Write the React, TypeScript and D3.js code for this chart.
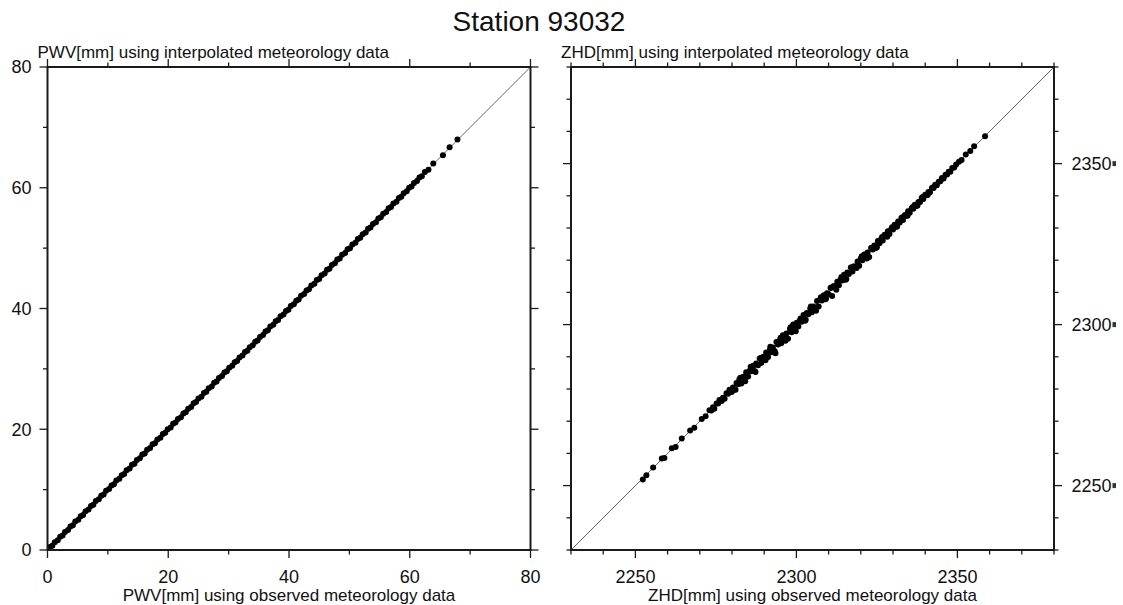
import React from "react";
import * as d3 from "d3";

// ---------- data ----------
const pwvObserved = [
  0.4, 0.8, 1.2, 1.7, 2.1, 2.5, 2.9, 3.4, 3.8, 4.2, 4.6, 5.1, 5.5, 5.9, 6.3, 6.8, 7.2, 7.6, 8.0, 8.5,
  8.9, 9.3, 9.7, 10.2, 10.6, 11.0, 11.4, 11.9, 12.3, 12.7, 13.1, 13.6, 14.0, 14.4, 14.8, 15.3, 15.7, 16.1, 16.5, 17.0,
  17.4, 17.8, 18.2, 18.7, 19.1, 19.5, 19.9, 20.4, 20.8, 21.2, 21.6, 22.1, 22.5, 22.9, 23.3, 23.8, 24.2, 24.6, 25.0, 25.5,
  25.9, 26.3, 26.7, 27.2, 27.6, 28.0, 28.4, 28.9, 29.3, 29.7, 30.1, 30.6, 31.0, 31.4, 31.8, 32.3, 32.7, 33.1, 33.5, 34.0,
  34.4, 34.8, 35.2, 35.7, 36.1, 36.5, 36.9, 37.4, 37.8, 38.2, 38.6, 39.1, 39.5, 39.9, 40.3, 40.8, 41.2, 41.6, 42.0, 42.5,
  42.9, 43.3, 43.7, 44.2, 44.6, 45.0, 45.4, 45.9, 46.3, 46.7, 47.1, 47.6, 48.0, 48.4, 48.8, 49.3, 49.7, 50.1, 50.5, 51.0,
  51.4, 51.8, 52.2, 52.7, 53.1, 53.5, 53.9, 54.4, 54.8, 55.2, 55.6, 56.1, 56.5, 56.9, 57.3, 57.8, 58.2, 58.6, 59.0, 59.5,
  59.9, 60.3, 60.7, 61.2, 61.6, 62.0, 62.5, 63.1, 63.9, 65.5, 66.6, 67.9,
];
const pwvInterpolated = [
  0.5, 0.7, 1.3, 1.6, 2.2, 2.4, 3.0, 3.3, 3.9, 4.1, 4.7, 5.0, 5.6, 5.8, 6.4, 6.7, 7.3, 7.5, 8.1, 8.4,
  9.0, 9.2, 9.8, 10.1, 10.7, 10.9, 11.5, 11.8, 12.4, 12.6, 13.2, 13.5, 14.1, 14.3, 14.9, 15.2, 15.8, 16.0, 16.6, 16.9,
  17.5, 17.7, 18.3, 18.6, 19.2, 19.4, 20.0, 20.3, 20.9, 21.1, 21.7, 22.0, 22.6, 22.8, 23.4, 23.7, 24.3, 24.5, 25.1, 25.4,
  26.0, 26.2, 26.8, 27.1, 27.7, 27.9, 28.5, 28.8, 29.4, 29.6, 30.2, 30.5, 31.1, 31.3, 31.9, 32.2, 32.8, 33.0, 33.6, 33.9,
  34.5, 34.7, 35.3, 35.6, 36.2, 36.4, 37.0, 37.3, 37.9, 38.1, 38.7, 39.0, 39.6, 39.8, 40.4, 40.7, 41.3, 41.5, 42.1, 42.4,
  43.0, 43.2, 43.8, 44.1, 44.7, 44.9, 45.5, 45.8, 46.4, 46.6, 47.2, 47.5, 48.1, 48.3, 48.9, 49.2, 49.8, 50.0, 50.6, 50.9,
  51.5, 51.7, 52.3, 52.6, 53.2, 53.4, 54.0, 54.3, 54.9, 55.1, 55.7, 56.0, 56.6, 56.8, 57.4, 57.7, 58.3, 58.5, 59.1, 59.4,
  60.0, 60.2, 60.8, 61.1, 61.7, 61.9, 62.6, 63.0, 64.0, 65.4, 66.7, 68.0,
];

const zhdObserved = [
  2252.3, 2253.4, 2255.5, 2258.2, 2259.0, 2261.3, 2262.5, 2264.4, 2267.0, 2268.3, 2270.6, 2271.8,
  2273.0, 2273.6, 2274.1, 2274.5, 2275.2, 2275.7, 2276.1, 2276.8, 2277.2, 2277.7, 2278.3, 2278.8, 2279.2, 2279.9,
  2280.3, 2280.8, 2281.4, 2281.9, 2282.3, 2282.9, 2283.5, 2283.9, 2284.4, 2285.0, 2285.5, 2286.0, 2286.6, 2287.0,
  2287.5, 2288.1, 2288.6, 2289.1, 2289.7, 2290.2, 2290.6, 2291.2, 2291.8, 2292.2, 2292.7, 2293.3, 2293.8, 2294.3,
  2294.9, 2295.3, 2295.8, 2296.4, 2296.9, 2297.4, 2298.0, 2298.5, 2299.0, 2299.5, 2300.1, 2300.6, 2301.1, 2301.6,
  2302.2, 2302.7, 2303.2, 2303.7, 2304.3, 2304.8, 2305.3, 2305.8, 2306.4, 2306.9, 2307.4, 2307.9, 2308.5, 2309.0,
  2309.5, 2310.0, 2310.6, 2311.1, 2311.6, 2312.1, 2312.7, 2313.2, 2313.7, 2314.2, 2314.8, 2315.3, 2315.8, 2316.3,
  2316.9, 2317.4, 2317.9, 2318.4, 2319.0, 2319.5, 2320.0, 2320.5, 2321.1, 2321.6, 2322.1, 2322.6, 2323.2, 2323.7,
  2324.2, 2324.7, 2325.3, 2325.8, 2326.3, 2326.8, 2327.4, 2327.9, 2328.4, 2328.9, 2329.5, 2330.0, 2330.5, 2331.0,
  2331.6, 2332.1, 2332.6, 2333.1, 2333.7, 2334.2, 2334.7, 2335.2, 2335.8, 2336.3, 2336.8, 2337.3, 2337.9, 2338.4,
  2338.9, 2339.4, 2340.0, 2340.5, 2341.0, 2341.5, 2342.1, 2342.6, 2343.1, 2343.6, 2344.2, 2344.7, 2345.2, 2345.7,
  2346.3, 2346.8, 2347.3, 2347.8, 2348.4, 2349.0, 2349.6,
  2350.5, 2351.3, 2352.6, 2354.0, 2355.2, 2358.6,
  2281.1, 2282.6, 2284.1, 2285.8, 2287.3, 2288.9, 2290.4, 2291.9, 2293.5, 2295.1, 2296.6, 2298.2, 2299.8, 2301.3,
  2302.9, 2304.5, 2306.1, 2307.6, 2309.2, 2310.8, 2312.4, 2314.0, 2315.5, 2317.1, 2318.7, 2320.3, 2321.9, 2323.4,
  2325.0, 2326.6, 2328.2, 2329.7, 2331.3, 2332.9, 2334.5, 2336.1, 2337.6, 2339.2, 2340.8, 2342.3,
];
const zhdInterpolated = [
  2251.9, 2253.2, 2255.6, 2258.4, 2258.6, 2261.6, 2262.0, 2264.6, 2267.1, 2268.0, 2270.7, 2271.5,
  2273.4, 2273.3, 2274.3, 2273.9, 2275.5, 2275.5, 2276.6, 2276.3, 2277.3, 2277.0, 2278.7, 2278.5, 2279.8, 2279.1,
  2280.5, 2279.8, 2281.9, 2281.5, 2283.0, 2281.7, 2283.8, 2283.3, 2285.2, 2283.9, 2285.7, 2285.5, 2287.2, 2285.6,
  2287.9, 2287.4, 2289.5, 2288.1, 2290.0, 2289.8, 2291.3, 2289.9, 2292.3, 2291.4, 2292.9, 2291.7, 2294.6, 2293.8,
  2295.3, 2294.2, 2296.7, 2295.8, 2297.2, 2295.6, 2298.6, 2297.6, 2300.0, 2299.1, 2300.6, 2299.4, 2301.3, 2300.9,
  2303.0, 2301.2, 2303.6, 2303.2, 2305.0, 2303.8, 2305.6, 2305.0, 2307.3, 2305.6, 2307.9, 2307.5, 2309.1, 2307.9,
  2309.7, 2309.4, 2311.4, 2308.9, 2312.0, 2311.4, 2313.3, 2312.2, 2314.0, 2313.7, 2315.5, 2313.9, 2316.2, 2315.7,
  2317.7, 2316.5, 2318.1, 2318.0, 2319.6, 2318.3, 2320.5, 2320.0, 2321.8, 2320.8, 2322.4, 2321.0, 2323.8, 2323.3,
  2324.6, 2323.8, 2326.0, 2325.3, 2326.5, 2326.1, 2327.9, 2327.6, 2329.0, 2328.1, 2329.8, 2329.5, 2331.0, 2330.4,
  2332.0, 2331.7, 2333.1, 2332.5, 2334.0, 2333.8, 2335.2, 2334.7, 2336.1, 2336.0, 2337.2, 2336.8, 2338.1, 2338.1,
  2339.3, 2339.0, 2340.3, 2340.2, 2341.2, 2341.1, 2342.4, 2342.4, 2343.4, 2343.3, 2344.4, 2344.5, 2345.5, 2345.4,
  2346.5, 2346.6, 2347.5, 2347.5, 2348.6, 2348.8, 2349.7,
  2350.6, 2351.1, 2352.8, 2353.9, 2355.4, 2358.5,
  2279.8, 2283.5, 2282.4, 2286.9, 2285.3, 2289.6, 2288.9, 2293.1, 2291.1, 2295.9, 2295.0, 2299.2, 2297.9, 2301.9,
  2301.5, 2305.6, 2304.3, 2308.5, 2308.0, 2311.5, 2310.8, 2314.8, 2314.2, 2317.7, 2317.6, 2321.2, 2320.5, 2323.9,
  2324.0, 2327.2, 2327.3, 2330.2, 2330.5, 2333.3, 2333.8, 2336.5, 2337.0, 2339.6, 2340.3, 2342.6,
];

const pwvDomain = [0, 80];
const zhdDomain = [2230, 2380];
const pwvTickLabels = [0, 20, 40, 60, 80];
const zhdTickLabels = [2250, 2300, 2350];
const pwvMinorStep = 10;
const zhdMinorStep = 10;

const chartTitle = "Station 93032";
const pwvTopTitle = "PWV[mm] using interpolated meteorology data";
const pwvBottomTitle = "PWV[mm] using observed meteorology data";
const zhdTopTitle = "ZHD[mm] using interpolated meteorology data";
const zhdBottomTitle = "ZHD[mm] using observed meteorology data";

// ---------- layout ----------
const W = 1123;
const H = 605;
const FONT = "'Liberation Sans', Arial, Helvetica, sans-serif";
const PANEL_TOP = 67;
const PANEL_SIZE = 483;
const MAJOR_LEN = 8;
const MINOR_LEN = 4.5;
const DOT_R = 3.0;

type PanelProps = {
  left: number;
  domain: number[];
  majors: number[];
  minorStep: number;
  obs: number[];
  interp: number[];
  topTitle: string;
  bottomTitle: string;
  labelSide: "left" | "right";
};

function Panel({ left, domain, majors, minorStep, obs, interp, topTitle, bottomTitle, labelSide }: PanelProps) {
  const top = PANEL_TOP;
  const size = PANEL_SIZE;
  const x = d3.scaleLinear().domain(domain).range([left, left + size]);
  const y = d3.scaleLinear().domain(domain).range([top + size, top]);
  const ticks = d3.range(domain[0], domain[1] + 1e-6, minorStep);
  const isMajor = (v: number) => majors.includes(v);
  const right = left + size;
  const bottom = top + size;

  return (
    <g>
      <text x={left - 10} y={58} fontSize={17} fontFamily={FONT} fill="#111">
        {topTitle}
      </text>
      {/* 1:1 line */}
      <line
        x1={x(domain[0])}
        y1={y(domain[0])}
        x2={x(domain[1])}
        y2={y(domain[1])}
        stroke="#555"
        strokeWidth={0.9}
      />
      {obs.map((o, i) => (
        <circle key={i} cx={x(o)} cy={y(interp[i])} r={DOT_R} fill="#000" />
      ))}
      <rect x={left} y={top} width={size} height={size} fill="none" stroke="#1b1b1b" strokeWidth={2} />
      {ticks.map((v) => {
        const len = isMajor(v) ? MAJOR_LEN : MINOR_LEN;
        const px = x(v);
        const py = y(v);
        return (
          <g key={v} stroke="#1b1b1b" strokeWidth={1.3}>
            <line x1={px} x2={px} y1={top} y2={top - len} />
            <line x1={px} x2={px} y1={bottom} y2={bottom + len} />
            <line x1={left} x2={left - len} y1={py} y2={py} />
            <line x1={right} x2={right + len} y1={py} y2={py} />
          </g>
        );
      })}
      {majors.map((v) => (
        <text
          key={"bx" + v}
          x={x(v)}
          y={583}
          fontSize={18}
          fontFamily={FONT}
          textAnchor="middle"
          fill="#111"
        >
          {v}
        </text>
      ))}
      {majors.map((v) =>
        labelSide === "left" ? (
          <text
            key={"ly" + v}
            x={left - 16}
            y={y(v)}
            dy="0.36em"
            fontSize={18}
            fontFamily={FONT}
            textAnchor="end"
            fill="#111"
          >
            {v}
          </text>
        ) : (
          <g key={"ry" + v}>
            <text x={right + 17.5} y={y(v)} dy="0.36em" fontSize={18} fontFamily={FONT} fill="#111">
              {v}
            </text>
            <rect x={right + 58.5} y={y(v) - 2.5} width={3.5} height={5} fill="#333" />
          </g>
        )
      )}
      <text x={(left + right) / 2} y={601} fontSize={17} fontFamily={FONT} textAnchor="middle" fill="#111">
        {bottomTitle}
      </text>
    </g>
  );
}

export default function App() {
  return (
    <svg
      width={W}
      height={H}
      viewBox={`0 0 ${W} ${H}`}
      style={{ position: "absolute", left: 0, top: 0, background: "#fff" }}
    >
      <rect x={0} y={0} width={W} height={H} fill="#fff" />
      <text x={539} y={31} fontSize={28} fontFamily={FONT} textAnchor="middle" fill="#111">
        {chartTitle}
      </text>
      <Panel
        left={47.5}
        domain={pwvDomain}
        majors={pwvTickLabels}
        minorStep={pwvMinorStep}
        obs={pwvObserved}
        interp={pwvInterpolated}
        topTitle={pwvTopTitle}
        bottomTitle={pwvBottomTitle}
        labelSide="left"
      />
      <Panel
        left={571}
        domain={zhdDomain}
        majors={zhdTickLabels}
        minorStep={zhdMinorStep}
        obs={zhdObserved}
        interp={zhdInterpolated}
        topTitle={zhdTopTitle}
        bottomTitle={zhdBottomTitle}
        labelSide="right"
      />
    </svg>
  );
}
